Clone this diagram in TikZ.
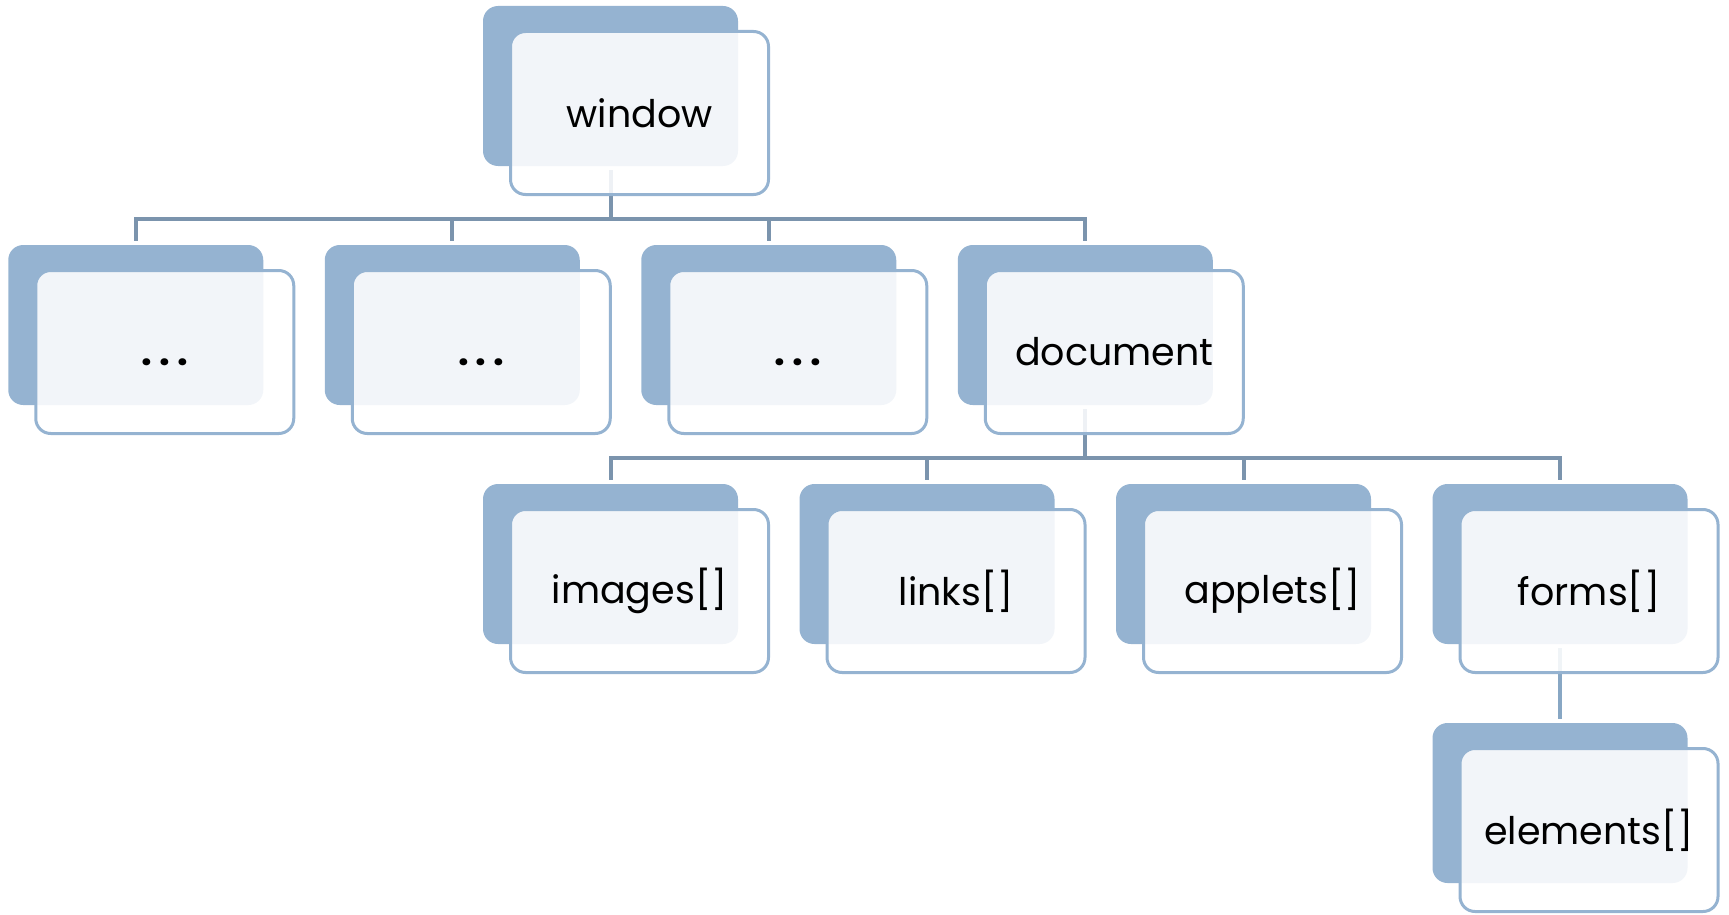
\documentclass[tikz,border=0pt]{standalone}
\usepackage{fontspec}
\setmainfont{Poppins}

\definecolor{backblue}{HTML}{95B3D1}
\definecolor{busgrey}{HTML}{7B94AD}
\definecolor{stemblue}{HTML}{88A7C4}

% wide ellipsis for the unnamed children
\newcommand\gapdots{\vphantom{d}\textbf{.\kern3.5pt.\kern3.5pt.}}

\begin{document}
\begin{tikzpicture}[
          x=0.5pt, y=0.5pt,
          level distance=119.5pt, sibling distance=158.25pt,
          back/.style={rectangle, rounded corners=7.5pt, fill=backblue,
            minimum width=127.5pt, minimum height=80pt, inner sep=0pt},
          front/.style={rectangle, rounded corners=7.5pt, draw=backblue, line width=1.5pt,
            fill=white, fill opacity=0.88, text opacity=1,
            minimum width=129pt, minimum height=81.5pt, font=\fontsize{19}{23}\selectfont},
          edge from parent/.style={draw=busgrey, line width=2pt},
          edge from parent path={([yshift=-2pt]\tikzparentnode.south)
            |- ([yshift=13pt]\tikzchildnode.north) -- ([yshift=2pt]\tikzchildnode.north)},
          level 3/.style={edge from parent/.style={draw=stemblue, line width=2pt}}
    ]
      \useasboundingbox (0,0) rectangle (1729,-915);

      % the tree itself, only the dark back cards
      \node[back] (win) at (610.5,-86) {}
        child {node[back] (d1) {}}
        child {node[back] (d2) {}}
        child {node[back] (d3) {}}
        child {
          node[back] (doc) {}
            child {node[back] (img) {}}
            child {node[back] (lnk) {}}
            child {node[back] (app) {}}
            child {
              node[back] (frm) {}
                child {node[back] (elm) {}}
            }
        };

      % light cards on top, carrying the labels
      \foreach \n/\t in {win/window, d1/\gapdots, d2/\gapdots, d3/\gapdots, doc/document,
                         img/images[], lnk/links[], app/applets[], frm/forms[], elm/elements[]}
        \node[front] (\n-f) at ([shift={(14.5pt,-13.5pt)}]\n.center) {\t};

      \end{tikzpicture}
\end{document}
